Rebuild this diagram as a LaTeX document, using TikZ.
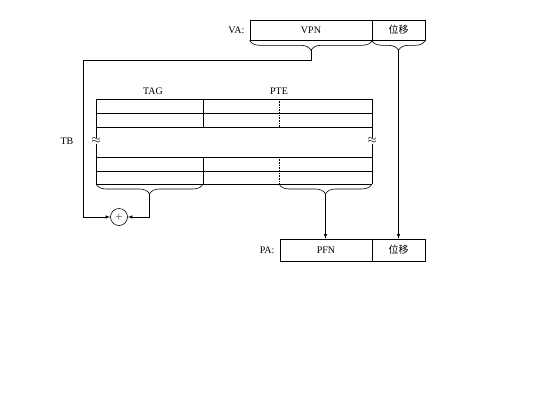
\documentclass[tikz,border=0pt]{standalone}
\usepackage{fontspec}
\setmainfont{Liberation Serif}
\newfontfamily\cjk{Noto Sans CJK SC}
\usetikzlibrary{decorations.pathreplacing}
\begin{document}
\begin{tikzpicture}
                [x=1pt, y=-1pt, font=\normalsize, >=latex, semithick,
                 field/.style={draw, rectangle, minimum height=20pt, inner sep=0pt},
                 brace/.style={decorate, decoration={brace, mirror, amplitude=10pt}},
                 row/.style={draw},
                 link/.style={draw, ->}]
                \useasboundingbox (0,0) rectangle (547,416);
                % Define nodes
                \node[field, minimum width=122pt] (vpn) at (311,30) {VPN};
                \node[field, minimum width=53pt] (vaoff) at (398.5,30) {\cjk 位移};
                \node[anchor=east] (va) at (vpn.west) {VA:\,};
                \node[field, minimum width=92pt, minimum height=22pt] (pfn) at (326,250) {PFN};
                \node[field, minimum width=53pt, minimum height=22pt] (paoff) at (398.5,250) {\cjk 位移};
                \node[anchor=east] (pa) at (pfn.west) {PA:\,};
                \node (tag) at (153,91) {TAG};
                \node (pte) at (279,91) {PTE};
                \node (tb) at (67,141) {TB};
                \node[draw, circle, minimum size=17pt, inner sep=0pt] (add) at (119,217) {$+$};
                % Define table
                \foreach \y in {99,113,127,157,171,184}
                    \draw[row] (96,\y) -- (372,\y);
                \draw[row] (96,99) -- (96,184);
                \draw[row] (372,99) -- (372,184);
                \draw[row] (203,99) -- (203,127) (203,157) -- (203,184);
                \draw[row, densely dotted] (279,99) -- (279,127) (279,157) -- (279,184);
                \node[fill=white, inner sep=0pt, font=\large] (brkl) at (96,141) {$\approx$};
                \node[fill=white, inner sep=0pt, font=\large] (brkr) at (372,141) {$\approx$};
                % Define braces
                \draw[brace] (vpn.south west) -- (vpn.south east);
                \draw[brace] (vaoff.south west) -- (vaoff.south east);
                \draw[brace] (96,184) -- (203,184);
                \draw[brace] (279,184) -- (372,184);
                \coordinate (vpntip) at (311,50);
                \coordinate (offtip) at (398.5,50);
                \coordinate (tagtip) at (149.5,194);
                \coordinate (ptetip) at (325.5,194);
                % Define edges
                \draw[link] (vpntip) -- (311,60) -| (83,217) -- (add.west);
                \draw[link] (tagtip) |- (add.east);
                \draw[link] (ptetip) -- (ptetip |- pfn.north);
                \draw[link] (offtip) -- (offtip |- paoff.north);
            \end{tikzpicture}
\end{document}
